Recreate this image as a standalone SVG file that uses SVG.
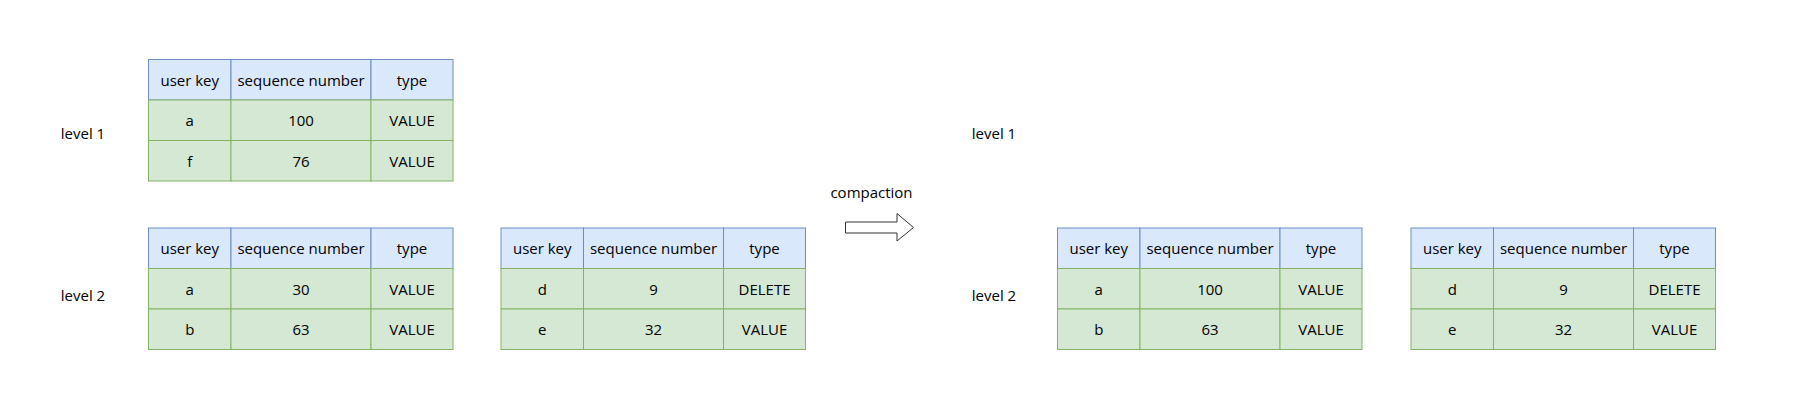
<svg xmlns="http://www.w3.org/2000/svg" width="1793" height="419" viewBox="0 0 1793 419">
<style>
text{font-family:"Comic Sans MS","Open Sans","DejaVu Sans",sans-serif;font-size:15px;fill:#000;text-anchor:middle;dominant-baseline:central}
.h{fill:#dae8fc;stroke:#6c8ebf;stroke-width:1}
.b{fill:#d5e8d4;stroke:#82b366;stroke-width:1}
</style>
<defs>
<g id="hdr">
<rect class="h" x="0" y="0" width="82.5" height="40.5"/>
<rect class="h" x="82.5" y="0" width="140" height="40.5"/>
<rect class="h" x="222.5" y="0" width="82" height="40.5"/>
<text x="41.25" y="20.25">user key</text>
<text x="152.5" y="20.25">sequence number</text>
<text x="263.5" y="20.25">type</text>
</g>
<g id="row">
<rect class="b" x="0" y="0" width="82.5" height="40.5"/>
<rect class="b" x="82.5" y="0" width="140" height="40.5"/>
<rect class="b" x="222.5" y="0" width="82" height="40.5"/>
</g>
</defs>
<rect width="1793" height="419" fill="#fff"/>

<g id="label-level1-left"><text x="83" y="133">level 1</text></g>
<g id="label-level2-left"><text x="83" y="294.5">level 2</text></g>
<g id="label-level1-right"><text x="994" y="133">level 1</text></g>
<g id="label-level2-right"><text x="994" y="294.5">level 2</text></g>
<g id="label-compaction"><text x="871.5" y="191.5">compaction</text></g>

<g id="table-l1" transform="translate(148.5,59.5)">
<use href="#hdr"/>
<use href="#row" y="40.5"/><use href="#row" y="81"/>
<text x="41.25" y="60.75">a</text><text x="152.5" y="60.75">100</text><text x="263.5" y="60.75">VALUE</text>
<text x="41.25" y="101.25">f</text><text x="152.5" y="101.25">76</text><text x="263.5" y="101.25">VALUE</text>
</g>

<g id="table-l2a" transform="translate(148.5,228)">
<use href="#hdr"/>
<use href="#row" y="40.5"/><use href="#row" y="81"/>
<text x="41.25" y="60.75">a</text><text x="152.5" y="60.75">30</text><text x="263.5" y="60.75">VALUE</text>
<text x="41.25" y="101.25">b</text><text x="152.5" y="101.25">63</text><text x="263.5" y="101.25">VALUE</text>
</g>

<g id="table-l2b" transform="translate(501,228)">
<use href="#hdr"/>
<use href="#row" y="40.5"/><use href="#row" y="81"/>
<text x="41.25" y="60.75">d</text><text x="152.5" y="60.75">9</text><text x="263.5" y="60.75">DELETE</text>
<text x="41.25" y="101.25">e</text><text x="152.5" y="101.25">32</text><text x="263.5" y="101.25">VALUE</text>
</g>

<g id="table-r2a" transform="translate(1057.5,228)">
<use href="#hdr"/>
<use href="#row" y="40.5"/><use href="#row" y="81"/>
<text x="41.25" y="60.75">a</text><text x="152.5" y="60.75">100</text><text x="263.5" y="60.75">VALUE</text>
<text x="41.25" y="101.25">b</text><text x="152.5" y="101.25">63</text><text x="263.5" y="101.25">VALUE</text>
</g>

<g id="table-r2b" transform="translate(1411,228)">
<use href="#hdr"/>
<use href="#row" y="40.5"/><use href="#row" y="81"/>
<text x="41.25" y="60.75">d</text><text x="152.5" y="60.75">9</text><text x="263.5" y="60.75">DELETE</text>
<text x="41.25" y="101.25">e</text><text x="152.5" y="101.25">32</text><text x="263.5" y="101.25">VALUE</text>
</g>

<g id="connectors">
<polygon id="compaction-arrow" points="845.5,222 897,222 897,213.5 913.5,227.5 897,241 897,233 845.5,233" fill="#fff" stroke="#333" stroke-width="1"/>
</g>
</svg>
